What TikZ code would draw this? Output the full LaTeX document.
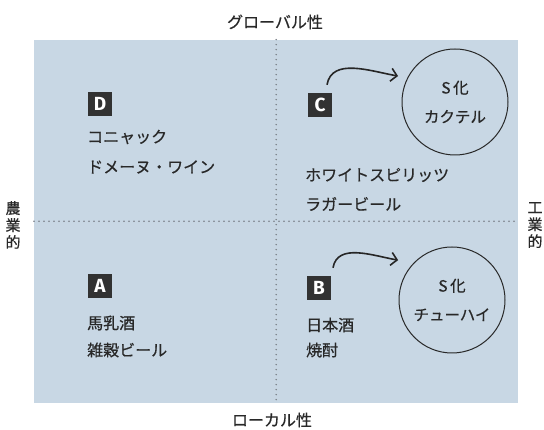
\documentclass[tikz,border=0pt]{standalone}
\usepackage{fontspec}
\setmainfont{Noto Sans CJK JP}[FakeBold=0.5]
\newfontfamily\boxfont{Fira Sans}
\usetikzlibrary{arrows.meta,calc}
\definecolor{bgblue}{RGB}{200,215,228}
\definecolor{txt}{RGB}{40,40,40}
\definecolor{boxgray}{RGB}{50,50,50}
\definecolor{dotgray}{RGB}{120,126,134}
\begin{document}
\begin{tikzpicture}[x=1pt,y=1pt,
  lbl/.style={font=\fontsize{16}{18}\selectfont, text=txt, inner sep=0pt, anchor=west},
  axislbl/.style={font=\fontsize{16}{18}\selectfont, text=txt, inner sep=0pt},
  vaxis/.style={font=\fontsize{15}{17}\selectfont, text=txt, inner sep=0pt, align=center},
  tag/.style={fill=boxgray, text=white, font=\boxfont\bfseries\fontsize{19}{19}\selectfont, minimum size=24pt, inner sep=0pt},
  ring/.style={circle, draw=txt, line width=1pt, minimum size=106pt, inner sep=0pt, align=center, font=\fontsize{15.5}{29}\selectfont, text=txt},
  arcarrow/.style={-{Straight Barb[length=6pt,width=13pt]}, line width=1.6pt, draw=black!85},
  divider/.style={draw=dotgray, line width=1.6pt, line cap=round, dash pattern=on 0pt off 5pt}
]
\useasboundingbox (0,0) rectangle (544,430);
\node[fill=bgblue, minimum width=484pt, minimum height=363pt, inner sep=0pt, anchor=south west] (panel) at (34,27) {};
\draw[divider] (panel.north) -- (panel.south);
\draw[divider] (panel.west) -- (panel.east);

% axis labels
\node[axislbl] (global) at (275,408) {グローバル性};
\node[axislbl] (local) at (272,10) {ローカル性};
\node[vaxis] (agri) at (13,205) {農\\業\\的};
\node[vaxis] (indu) at (535,205) {工\\業\\的};

% D quadrant
\node[tag] (tagD) at (100,326) {D};
\node[lbl] (d1) at (87,293) {コニャック};
\node[lbl] (d2) at (87,263) {ドメーヌ・ワイン};

% C quadrant
\node[tag] (tagC) at (320,325) {C};
\node[ring] (ringC) at (455,328) {S\,化\\カクテル};
\node[lbl] (c1) at (305,255) {ホワイトスピリッツ};
\node[lbl] (c2) at (305,226) {ラガービール};
\coordinate (endC) at ($(ringC.center)+(155.5:62.6)$);
\draw[arcarrow] ([shift={(7pt,8pt)}]tagC.north) to[out=80,in=170] (endC);

% A quadrant
\node[tag] (tagA) at (100,144) {A};
\node[lbl] (a1) at (87,107) {馬乳酒};
\node[lbl] (a2) at (87,80) {雑穀ビール};

% B quadrant
\node[tag] (tagB) at (319,142) {B};
\node[ring] (ringB) at (452,130) {S\,化\\チューハイ};
\node[lbl] (b1) at (306,105) {日本酒};
\node[lbl] (b2) at (306,80) {焼酎};
\coordinate (endB) at ($(ringB.center)+(143.5:67)$);
\draw[arcarrow] ([shift={(14pt,8pt)}]tagB.north) to[out=80,in=170] (endB);
\end{tikzpicture}
\end{document}
